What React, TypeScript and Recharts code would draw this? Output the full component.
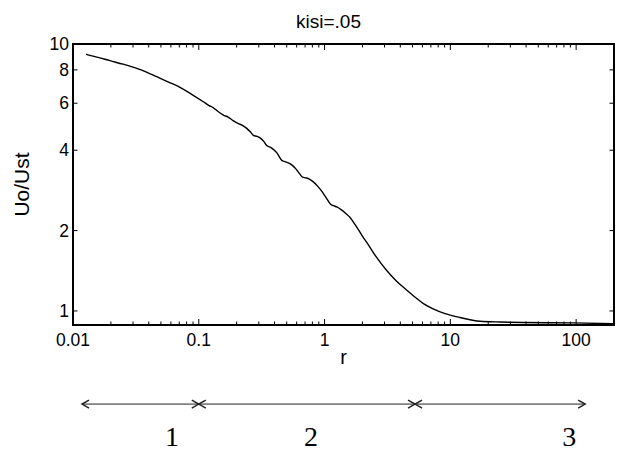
import { LineChart, Line, XAxis, YAxis, ReferenceLine, ReferenceDot, Label } from "recharts";

// r (log scale) and Uo/Ust
const R_VALUES = [
  0.01269, 0.01581, 0.01969, 0.02497, 0.03211, 0.03878, 0.0463, 0.05694, 0.07095, 0.08839,
  0.1087, 0.1207, 0.1298, 0.1423, 0.1567, 0.1709, 0.1873, 0.2063, 0.2208, 0.2406,
  0.2557, 0.2716, 0.2904, 0.3068, 0.3273, 0.3471, 0.3686, 0.3915, 0.4192, 0.4566,
  0.4852, 0.5154, 0.5515, 0.5935, 0.6327, 0.6683, 0.7061, 0.7432, 0.81, 0.8877,
  0.9552, 1.028, 1.116, 1.179, 1.25, 1.353, 1.483, 1.595, 1.717, 1.846,
  1.987, 2.158, 2.568, 3.084, 3.704, 4.505, 5.244, 6.107, 7.293, 9.084,
  11.95, 17.25, 24.86, 38.1, 95.17, 200,
];
const U_VALUES = [
  9.15, 8.916, 8.659, 8.401, 8.108, 7.833, 7.541, 7.217, 6.881, 6.465,
  6.076, 5.881, 5.78, 5.584, 5.418, 5.325, 5.167, 5.034, 4.97, 4.83,
  4.698, 4.55, 4.507, 4.449, 4.328, 4.163, 4.11, 4.029, 3.902, 3.666,
  3.625, 3.588, 3.517, 3.398, 3.268, 3.172, 3.153, 3.131, 3.051, 2.922,
  2.798, 2.657, 2.512, 2.48, 2.452, 2.396, 2.314, 2.24, 2.132, 2.025,
  1.914, 1.81, 1.597, 1.427, 1.298, 1.196, 1.126, 1.066, 1.019, 0.978,
  0.945, 0.915, 0.909, 0.905, 0.902, 0.895,
];

const X_MAJOR = [0.01, 0.1, 1, 10, 100];
const X_MINOR = [
  0.02, 0.03, 0.04, 0.05, 0.06, 0.07, 0.08, 0.09,
  0.2, 0.3, 0.4, 0.5, 0.6, 0.7, 0.8, 0.9,
  2, 3, 4, 5, 6, 7, 8, 9,
  20, 30, 40, 50, 60, 70, 80, 90,
];
const Y_TICKS = [1, 2, 4, 6, 8, 10];

// regions marked under the axis
const ZONE_BOUNDS = [0.0118, 0.1, 5.24, 118];
const ZONE_LABELS = ["1", "2", "3"];
const ZONE_LABEL_R = [0.0613, 0.781, 88];
const ARROW_LEVEL = 0.448;
const ZONE_LABEL_LEVEL = 0.312;

const data = R_VALUES.map((r, i) => ({ r, u: U_VALUES[i] }));
const X_TICKS = [...X_MAJOR, ...X_MINOR].sort((a, b) => a - b);

const SANS = "'Liberation Sans', Arial, sans-serif";
const SERIF = "'Liberation Serif', 'Times New Roman', serif";

function XTick(props: any) {
  const { x, y, payload, side } = props;
  const major = X_MAJOR.includes(payload.value);
  const len = major ? 6 : 3.5;
  const dir = side === "top" ? 1 : -1;
  return (
    <g>
      <line x1={x} x2={x} y1={y} y2={y + dir * len} stroke="#000" strokeWidth={1} />
      {side === "bottom" && major && (
        <text x={x} y={y + 21} textAnchor="middle" fontFamily={SANS} fontSize={17.5} fill="#000">
          {payload.value}
        </text>
      )}
    </g>
  );
}

function YTick(props: any) {
  const { x, y, payload, side } = props;
  const dir = side === "right" ? -1 : 1;
  return (
    <g>
      <line x1={x} x2={x + dir * 4.5} y1={y} y2={y} stroke="#000" strokeWidth={1} />
      {side === "left" && (
        <text x={x - 4} y={y + 6} textAnchor="end" fontFamily={SANS} fontSize={17.5} fill="#000">
          {payload.value}
        </text>
      )}
    </g>
  );
}

function ArrowShape(props: any) {
  const { x1, y1, x2, y2 } = props;
  return (
    <g stroke="#222" fill="none">
      <line x1={x1} y1={y1} x2={x2} y2={y2} strokeWidth={1} />
      <polyline points={`${x1 + 7},${y1 - 4} ${x1},${y1} ${x1 + 7},${y1 + 4}`} strokeWidth={1.5} />
      <polyline points={`${x2 - 7},${y2 - 4} ${x2},${y2} ${x2 - 7},${y2 + 4}`} strokeWidth={1.5} />
    </g>
  );
}

const axisLine = { stroke: "#000", strokeWidth: 2, strokeLinecap: "square" as const };

export default function App() {
  return (
    <div style={{ position: "absolute", left: 0, top: 0, width: 617, height: 453, background: "#fff" }}>
      <LineChart width={617} height={453} data={data} margin={{ top: 43, right: 2, bottom: 98, left: 0 }}>
        <XAxis
          dataKey="r"
          type="number"
          scale="log"
          domain={[0.01, 200]}
          allowDataOverflow
          ticks={X_TICKS}
          interval={0}
          height={30}
          tickSize={0}
          tickMargin={0}
          tickLine={false}
          axisLine={axisLine}
          tick={(p: any) => <XTick {...p} side="bottom" />}
        >
          <Label
            content={(p: any) => (
              <text
                x={p.viewBox.x + p.viewBox.width / 2}
                y={p.viewBox.y + 39}
                textAnchor="middle"
                fontFamily={SANS}
                fontSize={20}
                fill="#000"
              >
                r
              </text>
            )}
          />
        </XAxis>
        <XAxis
          xAxisId="top"
          dataKey="r"
          orientation="top"
          type="number"
          scale="log"
          domain={[0.01, 200]}
          allowDataOverflow
          ticks={X_TICKS}
          interval={0}
          height={1}
          tickSize={0}
          tickMargin={0}
          tickLine={false}
          axisLine={axisLine}
          tick={(p: any) => <XTick {...p} side="top" />}
        >
          <Label
            content={(p: any) => (
              <text
                x={p.viewBox.x + p.viewBox.width / 2 - 15}
                y={p.viewBox.y - 15}
                textAnchor="middle"
                fontFamily={SANS}
                fontSize={19}
                fill="#000"
              >
                kisi=.05
              </text>
            )}
          />
        </XAxis>
        <YAxis
          type="number"
          scale="log"
          domain={[0.886, 10]}
          allowDataOverflow
          ticks={Y_TICKS}
          interval={0}
          width={73}
          tickSize={0}
          tickMargin={0}
          tickLine={false}
          axisLine={axisLine}
          tick={(p: any) => <YTick {...p} side="left" />}
        >
          <Label
            content={(p: any) => {
              const cy = p.viewBox.y + p.viewBox.height / 2;
              return (
                <text
                  x={29}
                  y={cy}
                  transform={`rotate(-90, 29, ${cy})`}
                  textAnchor="middle"
                  fontFamily={SANS}
                  fontSize={21}
                  fill="#000"
                >
                  Uo/Ust
                </text>
              );
            }}
          />
        </YAxis>
        <YAxis
          yAxisId="right"
          orientation="right"
          type="number"
          scale="log"
          domain={[0.886, 10]}
          allowDataOverflow
          ticks={Y_TICKS}
          interval={0}
          width={1}
          tickSize={0}
          tickMargin={0}
          tickLine={false}
          axisLine={axisLine}
          tick={(p: any) => <YTick {...p} side="right" />}
        />
        <Line
          dataKey="u"
          type="monotone"
          stroke="#000"
          strokeWidth={1.4}
          dot={false}
          isAnimationActive={false}
        />
        {/* invisible copy so the top and right frame axes get drawn */}
        <Line
          dataKey="u"
          xAxisId="top"
          yAxisId="right"
          stroke="none"
          dot={false}
          activeDot={false}
          legendType="none"
          isAnimationActive={false}
        />
        {ZONE_BOUNDS.slice(0, -1).map((r, i) => (
          <ReferenceLine
            key={"arrow" + i}
            segment={[
              { x: r, y: ARROW_LEVEL },
              { x: ZONE_BOUNDS[i + 1], y: ARROW_LEVEL },
            ]}
            ifOverflow="visible"
            shape={ArrowShape}
          />
        ))}
        {ZONE_LABELS.map((label, i) => (
          <ReferenceDot
            key={"zone" + i}
            x={ZONE_LABEL_R[i]}
            y={ZONE_LABEL_LEVEL}
            ifOverflow="visible"
            shape={(p: any) => (
              <text x={p.cx} y={p.cy} textAnchor="middle" fontFamily={SERIF} fontSize={28} fill="#000">
                {label}
              </text>
            )}
          />
        ))}
      </LineChart>
    </div>
  );
}
